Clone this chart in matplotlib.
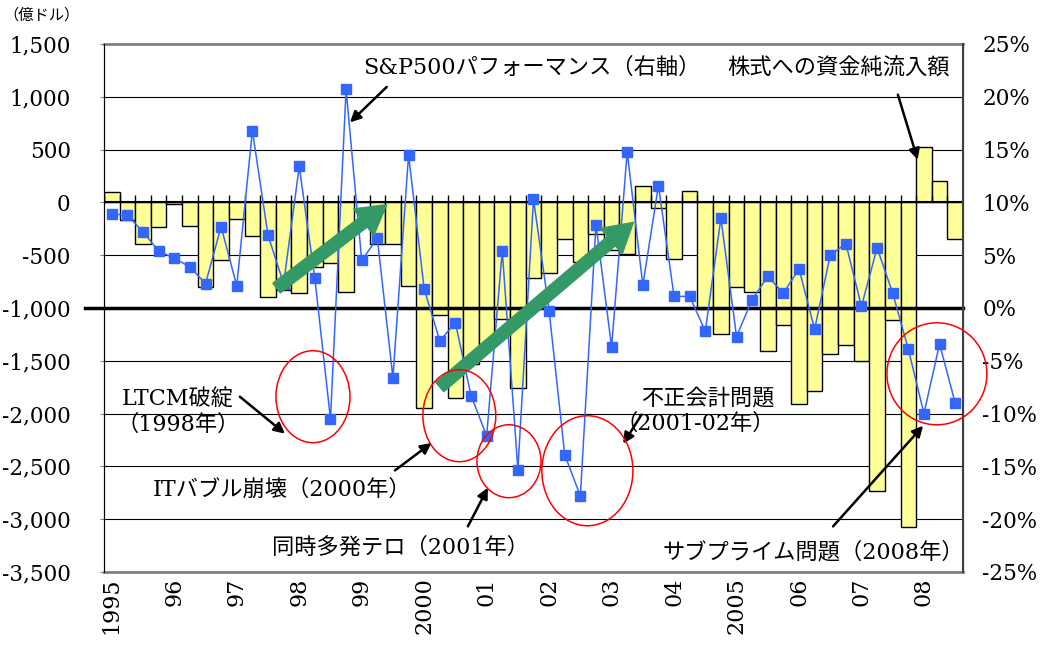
import matplotlib
matplotlib.use('Agg')
import matplotlib.pyplot as plt
import numpy as np
from matplotlib.patches import Ellipse, FancyArrowPatch

plt.rcParams['font.family'] = ['DejaVu Serif', 'Noto Sans CJK JP']

# 四半期データ 1995Q1 - 2008Q3
year_labels = ['1995', '96', '97', '98', '99', '2000', '01', '02', '03', '04',
               '2005', '06', '07', '08']
# 株式への資金純流入額 (億ドル)
flows = [100, -170, -390, -230, -17, -220, -800, -545, -155, -318,
         -900, -830, -855, -610, -570, -848, 0, -390, -390, -790,
         -1948, -1070, -1850, -1535, -1345, -1100, -1755, -720, -665, -347,
         -565, -297, -448, -490, 160, -53, -540, 105, -1010, -1245,
         -800, -850, -1410, -1165, -1907, -1787, -1440, -1350, -1500, -2735,
         -1110, -3075, 523, 200, -350]
# S&P500パフォーマンス (%)
sp500 = [8.9, 8.8, 7.2, 5.4, 4.7, 3.9, 2.3, 7.7, 2.1, 16.8,
         6.9, 2.3, 13.4, 2.8, -10.5, 20.7, 4.5, 6.6, -6.6, 14.5,
         1.8, -3.1, -1.4, -8.3, -12.1, 5.4, -15.3, 10.3, -0.25, -13.9,
         -17.8, 7.9, -3.7, 14.8, 2.15, 11.6, 1.1, 1.1, -2.2, 8.5,
         -2.7, 0.8, 3.0, 1.4, 3.7, -2.0, 5.0, 6.1, 0.15, 5.7,
         1.4, -3.9, -10.0, -3.4, -9.0]

left_ticks = list(range(-3500, 1501, 500))
right_ticks = list(range(-25, 26, 5))

n = len(flows)
x = np.arange(n)

fig = plt.figure(figsize=(10.44, 6.5), dpi=100)
ax = fig.add_axes([104/1044, 1-572/650, (963-104)/1044, (572-44)/650])

ax.bar(x, flows, width=1.0, color='#FFFF99', edgecolor='black', linewidth=1.0, zorder=2)
ax.set_xlim(-0.5, n-0.5)
ax.set_ylim(-3500, 1500)
ax.set_yticks(left_ticks)
ax.set_yticklabels(['{:,}'.format(v) for v in left_ticks])
ax.set_axisbelow(True)
ax.grid(axis='y', color='black', lw=0.8)
ax.set_xticks(x[::4])
ax.set_xticklabels(year_labels, rotation=90, va='top', ha='center')
ax.tick_params(axis='x', length=0, pad=4, labelsize=16)
ax.tick_params(axis='y', direction='out', length=3, color='#808080', pad=21, labelsize=15.5)

# 0 の軸線と目盛り
ax.axhline(0, color='black', lw=1.5, zorder=3)
ax.vlines(np.arange(n+1)-0.5, 0, 70, color='black', lw=1, zorder=3)
# 右軸0%の線
ax.axhline(-1000, xmin=-0.022, xmax=1, color='black', lw=2.5, zorder=3, clip_on=False)

for s in ['top', 'bottom']:
    ax.spines[s].set_color('#808080')
    ax.spines[s].set_linewidth(2)
ax.spines['left'].set_color('#404040')

ax2 = ax.twinx()
ax2.plot(x, sp500, color='#3366FF', lw=1.1, marker='s', ms=7.5,
         mfc='#3366FF', mec='#3366FF', zorder=5)
ax2.set_ylim(-25, 25)
ax2.set_yticks(right_ticks)
ax2.set_yticklabels(['{}%'.format(v) for v in right_ticks])
ax2.tick_params(axis='y', length=0, pad=14, labelsize=15.5)
ax2.spines['right'].set_color('#404040')
ax2.spines['right'].set_linewidth(1.5)
for s in ['top', 'bottom']:
    ax2.spines[s].set_visible(False)

T = ax.transData

# 緑の矢印
for p0, p1 in [((10.55, -811), (17.6, -22)), ((21.0, -1748), (33.4, -189))]:
    ax2.add_patch(FancyArrowPatch(p0, p1, transform=T, color='#339966',
                                  arrowstyle='simple,head_length=1.3,head_width=1.5,tail_width=0.55',
                                  mutation_scale=16, zorder=6, shrinkA=0, shrinkB=0))

# 赤い楕円
ellipses = [((12.88, -1840), 4.74, 871), ((22.25, -2020), 4.67, 871),
            ((25.43, -2451), 4.1, 691), ((30.45, -2541), 5.83, 1042),
            ((52.83, -1623), 6.4, 966)]
for c, w, h in ellipses:
    ax2.add_patch(Ellipse(c, w, h, transform=T, fill=False, edgecolor='red',
                          lw=1.1, zorder=7, clip_on=False))

arrow = dict(arrowstyle='-|>', color='black', lw=1.8, mutation_scale=16,
             shrinkA=0, shrinkB=0)
fs = 16

ax2.annotate('', xy=(15.25, 758), xytext=(17.6, 1093), xycoords=T, textcoords=T, arrowprops=arrow)
ax2.text(16.08, 1276, 'S&P500パフォーマンス（右軸）', transform=T, fontsize=fs, va='center', ha='left')

ax2.annotate('', xy=(51.6, 404), xytext=(50.33, 1020), xycoords=T, textcoords=T, arrowprops=arrow)
ax2.text(39.38, 1266, '株式への資金純流入額', transform=T, fontsize=fs, va='center', ha='left')

ax2.annotate('', xy=(11.09, -2190), xytext=(8.2, -1840), xycoords=T, textcoords=T, arrowprops=arrow)
ax2.text(4.24, -1987, 'LTCM破綻\n（1998年）', transform=T, fontsize=fs, va='center',
         ha='center', multialignment='center', linespacing=1.25)

ax2.annotate('', xy=(20.47, -2278), xytext=(18.13, -2538), xycoords=T, textcoords=T, arrowprops=arrow)
ax2.text(2.64, -2721, 'ITバブル崩壊（2000年）', transform=T, fontsize=fs, va='center', ha='left')

ax2.annotate('', xy=(24.08, -2702), xytext=(22.8, -3068), xycoords=T, textcoords=T, arrowprops=arrow)
ax2.text(10.26, -3270, '同時多発テロ（2001年）', transform=T, fontsize=fs, va='center', ha='left')

ax2.annotate('', xy=(32.74, -2285), xytext=(33.92, -2010), xycoords=T, textcoords=T, arrowprops=arrow)
ax2.text(42.46, -1977, '不正会計問題\n（2001-02年）', transform=T, fontsize=fs, va='center',
         ha='right', multialignment='right', linespacing=1.25)

ax2.annotate('', xy=(51.95, -2115), xytext=(46.18, -3068), xycoords=T, textcoords=T, arrowprops=arrow)
ax2.text(35.29, -3318, 'サブプライム問題（2008年）', transform=T, fontsize=fs, va='center', ha='left')

ax2.set_xlim(-0.5, n-0.5)

fig.text(3/1044, 1-15/650, '（億ドル）', fontsize=11, va='center', ha='left')

fig.savefig('out.png', dpi=100)
